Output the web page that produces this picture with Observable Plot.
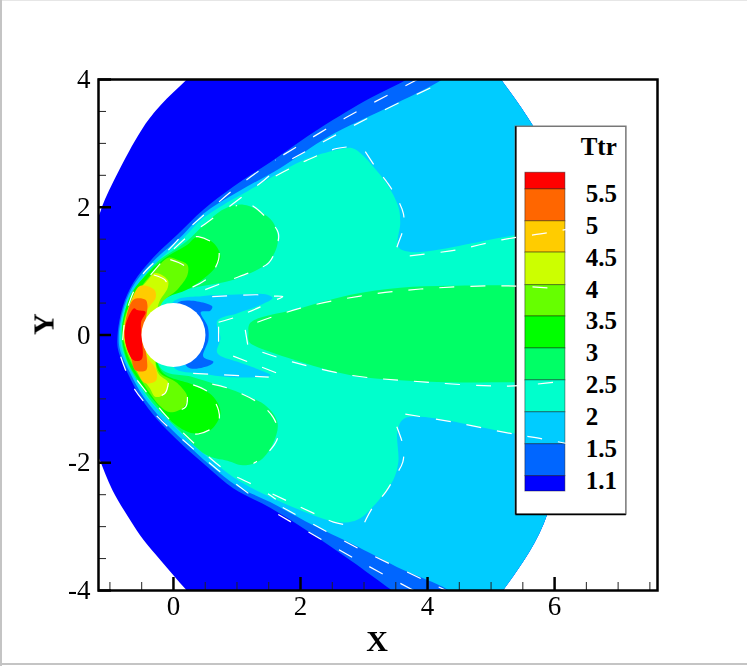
<!DOCTYPE html>
<html>
<head>
<meta charset="utf-8">
<style>
html,body{margin:0;padding:0;background:#fff}
svg{display:block;filter:blur(.35px)}
#c{position:relative;width:747px;height:666px;overflow:hidden;box-shadow:inset 2px 0 0 #c4c4c4,inset 0 1px 0 #e6e6e6}
#c::after{content:"";position:absolute;left:0;right:0;top:663px;height:2px;background:#c4c4c4}
</style>
<script src="https://cdn.jsdelivr.net/npm/d3@7"></script>
<script src="https://cdn.jsdelivr.net/npm/@observablehq/plot@0.6"></script>
</head>
<body>
<div id="c"></div>
<script>
// --- filled contour levels, lowest first (X, Y) ---
const rim = [[4.8,4.45],[5.15,4.01],[5.67,3.26],[6.09,2.43],[6.25,0],[5.89,-2.79],[5.18,-4.01],[4.8,-4.45]];
const below11 = [[-1.4,1.4],[-1.18,1.85],[-1.10,2.07],[-.83,2.63],[-.47,3.26],[-.20,3.60],[.22,4.01],[.6,4.4],...rim,[.6,-4.4],[.22,-4.01],[-.20,-3.53],[-.47,-3.21],[-.68,-2.90],[-.96,-2.43],[-1.18,-1.91],[-1.4,-1.4]];
const above11 = [[-.88,0],[-.80,.44],[-.63,.82],[-.31,1.22],[.06,1.57],[.47,1.96],[.94,2.32],[1.53,2.71],[2.31,3.24],[3.10,3.71],[3.69,4.01],[4.1,4.3],...rim,[3.9,-4.3],[3.46,-4.01],[2.79,-3.53],[2.16,-3.10],[1.53,-2.71],[.94,-2.40],[.54,-2.07],[.11,-1.69],[-.25,-1.33],[-.52,-.97],[-.72,-.60],[-.87,-.24]];
const above15 = [[-.86,0],[-.78,.44],[-.60,.82],[-.27,1.20],[.11,1.53],[.47,1.90],[1.01,2.24],[1.69,2.62],[2.43,3.10],[3.37,3.56],[4.25,4.01],[4.55,4.25],...rim,[4.35,-4.01],[3.62,-3.68],[2.79,-3.26],[2.20,-2.98],[1.53,-2.62],[1.01,-2.37],[.58,-2.04],[.16,-1.66],[-.19,-1.31],[-.47,-.97],[-.68,-.60],[-.84,-.24]];
const above2 = [[-.84,0],[-.76,.44],[-.56,.80],[-.23,1.17],[.15,1.51],[.47,1.83],[.79,2.04],[1.06,2.19],[1.53,2.46],[2.05,2.74],[2.58,2.90],[2.79,2.93],[2.94,2.85],[3.15,2.63],[3.37,2.35],[3.54,2.01],[3.57,1.76],[3.54,1.38],[3.73,1.30],[5.42,1.57],[6.17,1.65],[6.25,0],[6.17,-1.65],[5.35,-1.54],[3.65,-1.30],[3.53,-1.49],[3.54,-1.99],[3.46,-2.27],[3.26,-2.55],[2.94,-2.87],[2.76,-2.93],[2.52,-2.92],[2.20,-2.82],[1.53,-2.54],[1.06,-2.30],[.66,-2.01],[.24,-1.65],[-.15,-1.26],[-.42,-.97],[-.64,-.60],[-.81,-.24]];
const wakeCyan = [[-.02,.50],[.47,.61],[.90,.63],[1.48,.63],[1.56,.58],[1.37,.47],[1.01,.34],[.69,.22],[.74,-.05],[.69,-.28],[1.01,-.42],[1.37,-.55],[1.53,-.63],[.90,-.66],[.43,-.60],[0,-.50]];
const wakeBlue = [[.06,.50],[.61,.45],[.58,.38],[.43,.36],[.54,.13],[.55,-.08],[.47,-.34],[.63,-.42],[.58,-.47],[.22,-.50]];
const wakeCore = [[1.18,0],[1.21,.19],[2.00,.42],[2.79,.63],[3.57,.74],[4.36,.77],[5.39,.78],[6.2,.78],[6.2,-.74],[5.39,-.74],[4.36,-.74],[3.57,-.71],[2.79,-.63],[2.00,-.42],[1.21,-.13],[1.18,-.08]];
const above25 = [[-.24,.50],[1.01,.89],[1.48,1.13],[1.64,1.44],[1.57,1.76],[1.37,1.93],[1.10,2.04],[.79,1.97],[.50,1.74],[.20,1.46],[-.26,1.14],[-.52,.83],[-.73,.47],[-.82,0],[-.76,-.34],[-.55,-.75],[-.27,-1.13],[.09,-1.49],[.52,-1.88],[.85,-1.97],[1.09,-2.04],[1.37,-1.96],[1.57,-1.69],[1.64,-1.38],[1.48,-1.13],[1.06,-.91],[.31,-.66],[-.20,-.52]];
const above3 = [[-.24,.47],[.27,.74],[.63,1.02],[.74,1.22],[.63,1.44],[.38,1.54],[.20,1.40],[-.08,1.24],[-.38,.99],[-.65,.67],[-.77,.34],[-.81,0],[-.73,-.39],[-.52,-.75],[-.22,-1.13],[.04,-1.41],[.31,-1.54],[.58,-1.49],[.74,-1.22],[.63,-.97],[.31,-.78],[-.20,-.55]];
const above35 = [[-.20,.47],[.06,.71],[.22,.94],[.22,1.10],[.06,1.18],[-.08,1.21],[-.33,.97],[-.54,.71],[-.74,.36],[-.80,0],[-.71,-.34],[-.48,-.75],[-.19,-1.13],[-.05,-1.21],[.16,-1.13],[.22,-.97],[.06,-.75],[-.24,-.55]];
const above4 = [[-.24,.47],[-.09,.74],[-.09,.86],[-.28,.97],[-.43,.83],[-.62,.61],[-.73,.36],[-.79,0],[-.69,-.34],[-.55,-.60],[-.38,-.82],[-.28,-.97],[-.13,-.91],[-.08,-.75],[-.25,-.58]];
const above45 = [[-.36,.47],[-.28,.58],[-.30,.71],[-.52,.77],[-.65,.58],[-.72,.36],[-.78,0],[-.67,-.34],[-.58,-.55],[-.45,-.75],[-.28,-.72],[-.27,-.55],[-.41,-.34],[-.48,0],[-.44,.34]];
const above5 = [[-.41,.47],[-.44,.55],[-.63,.55],[-.77,0],[-.66,-.39],[-.60,-.55],[-.43,-.55],[-.42,-.36],[-.48,0],[-.42,.34]];
const above55 = [[-.62,.42],[-.76,.13],[-.74,-.19],[-.62,-.40],[-.50,-.38],[-.50,-.03],[-.51,.20],[-.44,.36],[-.57,.39]];
const cylinder = [[0,0]];

const palette = ["#0000ff","#0066ff","#00ccff","#00ffcc","#00ff66","#00ff00","#66ff00","#ccff00","#ffcc00","#ff6600","#ff0000"];
const levelFills = [
  [below11, palette[0]],[above11, palette[1]],[above15, palette[2]],[above2, palette[3]],
  [wakeCyan, palette[2]],[wakeBlue, palette[1]],[wakeCore, palette[4]],
  [above25, palette[4]],[above3, palette[5]],[above35, palette[6]],[above4, palette[7]],
  [above45, palette[8]],[above5, palette[9]],[above55, palette[10]]
];

// --- white dashed contour lines ---
const shockUpperNose = [[-.80,-.08],[-.77,.20],[-.68,.55],[-.49,.94],[-.31,1.13],[-.05,1.36],[.22,1.65],[.54,1.93],[.94,2.27],[1.32,2.55],[1.61,2.74]];
const shockUpperFar = [[1.73,2.82],[2.71,3.40],[3.84,4.0]];
const shockMidNose = [[-.36,.94],[-.09,1.25],[.22,1.54],[.54,1.77],[.85,1.99],[1.17,2.23],[1.37,2.38],[1.73,2.68]];
const shockMidFar = [[1.87,2.76],[3.07,3.40],[4.39,4.03]];
const shockLowerNose = [[-.83,-.34],[-.63,-.82],[-.24,-1.29],[.24,-1.72],[.71,-2.12],[1.18,-2.48]];
const shockLowerFar = [[1.65,-2.81],[2.87,-3.51],[3.84,-4.03]];
const shockLowMidNose = [[-.57,-.71],[-.13,-1.25],[.14,-1.52],[.82,-2.12],[1.32,-2.38],[1.61,-2.57]];
const shockLowMidFar = [[1.72,-2.70],[2.91,-3.34],[4.36,-4.03]];
const shockLines = [shockUpperNose,shockUpperFar,shockMidNose,shockMidFar,shockLowerNose,shockLowerFar,shockLowMidNose,shockLowMidFar];

const innerLines = [
  [[1.61,2.49],[2.09,2.73],[2.57,2.92],[2.82,2.95]],
  [[3.02,2.87],[3.18,2.63],[3.37,2.38],[3.51,2.16],[3.62,1.90],[3.62,1.68],[3.53,1.41],[3.46,1.21]],
  [[3.72,1.24],[4.44,1.33],[5.17,1.49],[5.89,1.60],[6.38,1.69]],
  [[1.56,-2.49],[2.27,-2.82],[2.52,-2.93],[2.76,-2.98]],
  [[3.01,-2.93],[3.13,-2.71],[3.34,-2.46],[3.48,-2.23],[3.61,-1.99],[3.62,-1.76],[3.54,-1.50],[3.45,-1.27]],
  [[3.65,-1.24],[4.39,-1.36],[5.35,-1.55],[5.83,-1.63],[6.25,-1.71]],
  [[.50,.71],[.89,.86],[1.25,1.0],[1.5,1.13],[1.62,1.37],[1.65,1.6],[1.45,1.85],[1.18,2.05],[.98,2.02]],
  [[.61,-.77],[.85,-.83],[1.32,-1.05],[1.57,-1.29],[1.65,-1.57],[1.50,-1.83],[1.26,-2.01]],
  [[.30,.75],[.54,.89],[.71,1.18],[.69,1.38],[.39,1.54],[.19,1.49]],
  [[.31,-.78],[.54,-.89],[.71,-1.18],[.71,-1.36],[.61,-1.46],[.39,-1.55],[.24,-1.54]],
  [[-.05,1.18],[.19,1.07],[.22,.94]],
  [[.22,-.97],[.19,-1.13],[-.02,-1.21]],
  [[-.31,.94],[-.13,.86],[-.09,.74]],
  [[-.08,-.75],[-.13,-.91],[-.25,-.97]],
  [[.61,.60],[1.32,.63],[1.56,.61],[1.72,.60],[1.61,.55]],
  [[.71,.20],[.98,.28],[1.37,.44]],
  [[.31,-.60],[1.50,-.66]],
  [[.94,-.33],[1.64,-.60]],
  [[.71,.13],[.71,-.13]],
  [[1.13,.08],[1.17,-.16]],
  [[1.32,.20],[2.00,.42],[2.94,.61],[3.89,.72],[5.18,.77],[6.14,.72]],
  [[1.40,-.27],[1.87,-.42],[2.79,-.63],[3.73,-.72],[5.26,-.80],[5.98,-.74]]
];

// --- axes ---
const xMajor = [0,2,4,6];
const xMinor = [-1,-.5,.5,1,1.5,2.5,3,3.5,4.5,5,5.5,6.5,7,7.5];
const yMajor = [-4,-2,0,2,4];
const yMinor = [-3.5,-3,-2.5,-1.5,-1,-.5,.5,1,1.5,2.5,3,3.5];

// --- legend ---
const legendName = "Ttr";
const legendLabels = ["5.5","5","4.5","4","3.5","3","2.5","2","1.5","1.1"];
const legendEdges = [2.54,2.28,1.78,1.29,.78,.29,-.21,-.71,-1.21,-1.71,-2.21,-2.45];
const legendColors = [...palette].reverse();
const legendBands = legendColors.map((c,i)=>({c,y1:legendEdges[i],y2:legendEdges[i+1]}));
const legendTicks = legendLabels.map((t,i)=>({t,y:legendEdges[i+1]}));

const serif = "'Liberation Serif','Times New Roman',serif";

const chart = Plot.plot({
  width:747, height:666,
  marginLeft:98, marginRight:90, marginTop:79, marginBottom:76,
  x:{domain:[-1.18,7.62]},
  y:{domain:[-4,4]},
  style:{background:"transparent",fontFamily:serif},
  marks:[
    ...levelFills.map(([pts,fill])=>Plot.line(pts,{fill,stroke:"none",curve:"catmull-rom-closed",clip:"frame"})),
    Plot.dot(cylinder,{r:32,fill:"#fff",stroke:"none"}),
    // legend
    Plot.rect([0],{x1:5.39,x2:7.13,y1:3.26,y2:-2.81,fill:"#fff",stroke:"#777",strokeWidth:1.5}),
    Plot.ruleX([5.39],{y1:3.26,y2:-2.81,stroke:"#000",strokeWidth:1.5}),
    Plot.ruleY([-2.81],{x1:5.39,x2:7.13,stroke:"#000",strokeWidth:1.5}),
    Plot.rect(legendBands,{x1:5.54,x2:6.17,y1:"y1",y2:"y2",fill:"c",stroke:"#000",strokeOpacity:.4,strokeWidth:1}),
    Plot.text(legendTicks,{x:6.49,y:"y",text:"t",textAnchor:"start",dy:5,fontSize:25,fontWeight:"bold",fill:"#000"}),
    Plot.text([legendName],{x:6.41,y:2.95,text:d=>d,textAnchor:"start",fontSize:25,fontWeight:"bold",fill:"#000"}),
    // contour dashes
    ...shockLines.map(l=>Plot.line(l,{stroke:"#fff",strokeWidth:1.2,strokeDasharray:"15,20",strokeLinecap:"butt",curve:"catmull-rom",clip:"frame"})),
    ...innerLines.map(l=>Plot.line(l,{stroke:"#fff",strokeWidth:1.2,strokeDasharray:"15,16",strokeLinecap:"butt",curve:"catmull-rom",clip:"frame"})),
    // axes
    Plot.axisX(xMinor,{anchor:"bottom",tickSize:-8,strokeWidth:1,stroke:"#222",text:null,label:null}),
    Plot.axisY(yMinor,{anchor:"left",tickSize:-8,strokeWidth:1,stroke:"#222",text:null,label:null}),
    Plot.axisX(xMajor,{anchor:"bottom",tickSize:-13,strokeWidth:2.5,stroke:"#000",text:null,label:null}),
    Plot.axisY(yMajor,{anchor:"left",tickSize:-13,strokeWidth:2.5,stroke:"#000",text:null,label:null}),
    Plot.axisX(xMajor,{anchor:"bottom",tickSize:0,tickPadding:5,fontSize:27,label:null,tickFormat:d=>String(d)}),
    Plot.axisY(yMajor,{anchor:"left",tickSize:0,tickPadding:8,fontSize:27,label:null,tickFormat:d=>String(d)}),
    Plot.frame({stroke:"#000",strokeWidth:2.5}),
    Plot.text(["X"],{frameAnchor:"bottom",text:d=>d,dy:60,fontSize:30,fontWeight:"bold",fill:"#000",dx:-1}),
    Plot.text(["Y"],{frameAnchor:"left",text:d=>d,dx:-55,rotate:-90,fontSize:30,fontWeight:"bold",fill:"#000"})
  ]
});
document.getElementById("c").appendChild(chart);
</script>
</body>
</html>
